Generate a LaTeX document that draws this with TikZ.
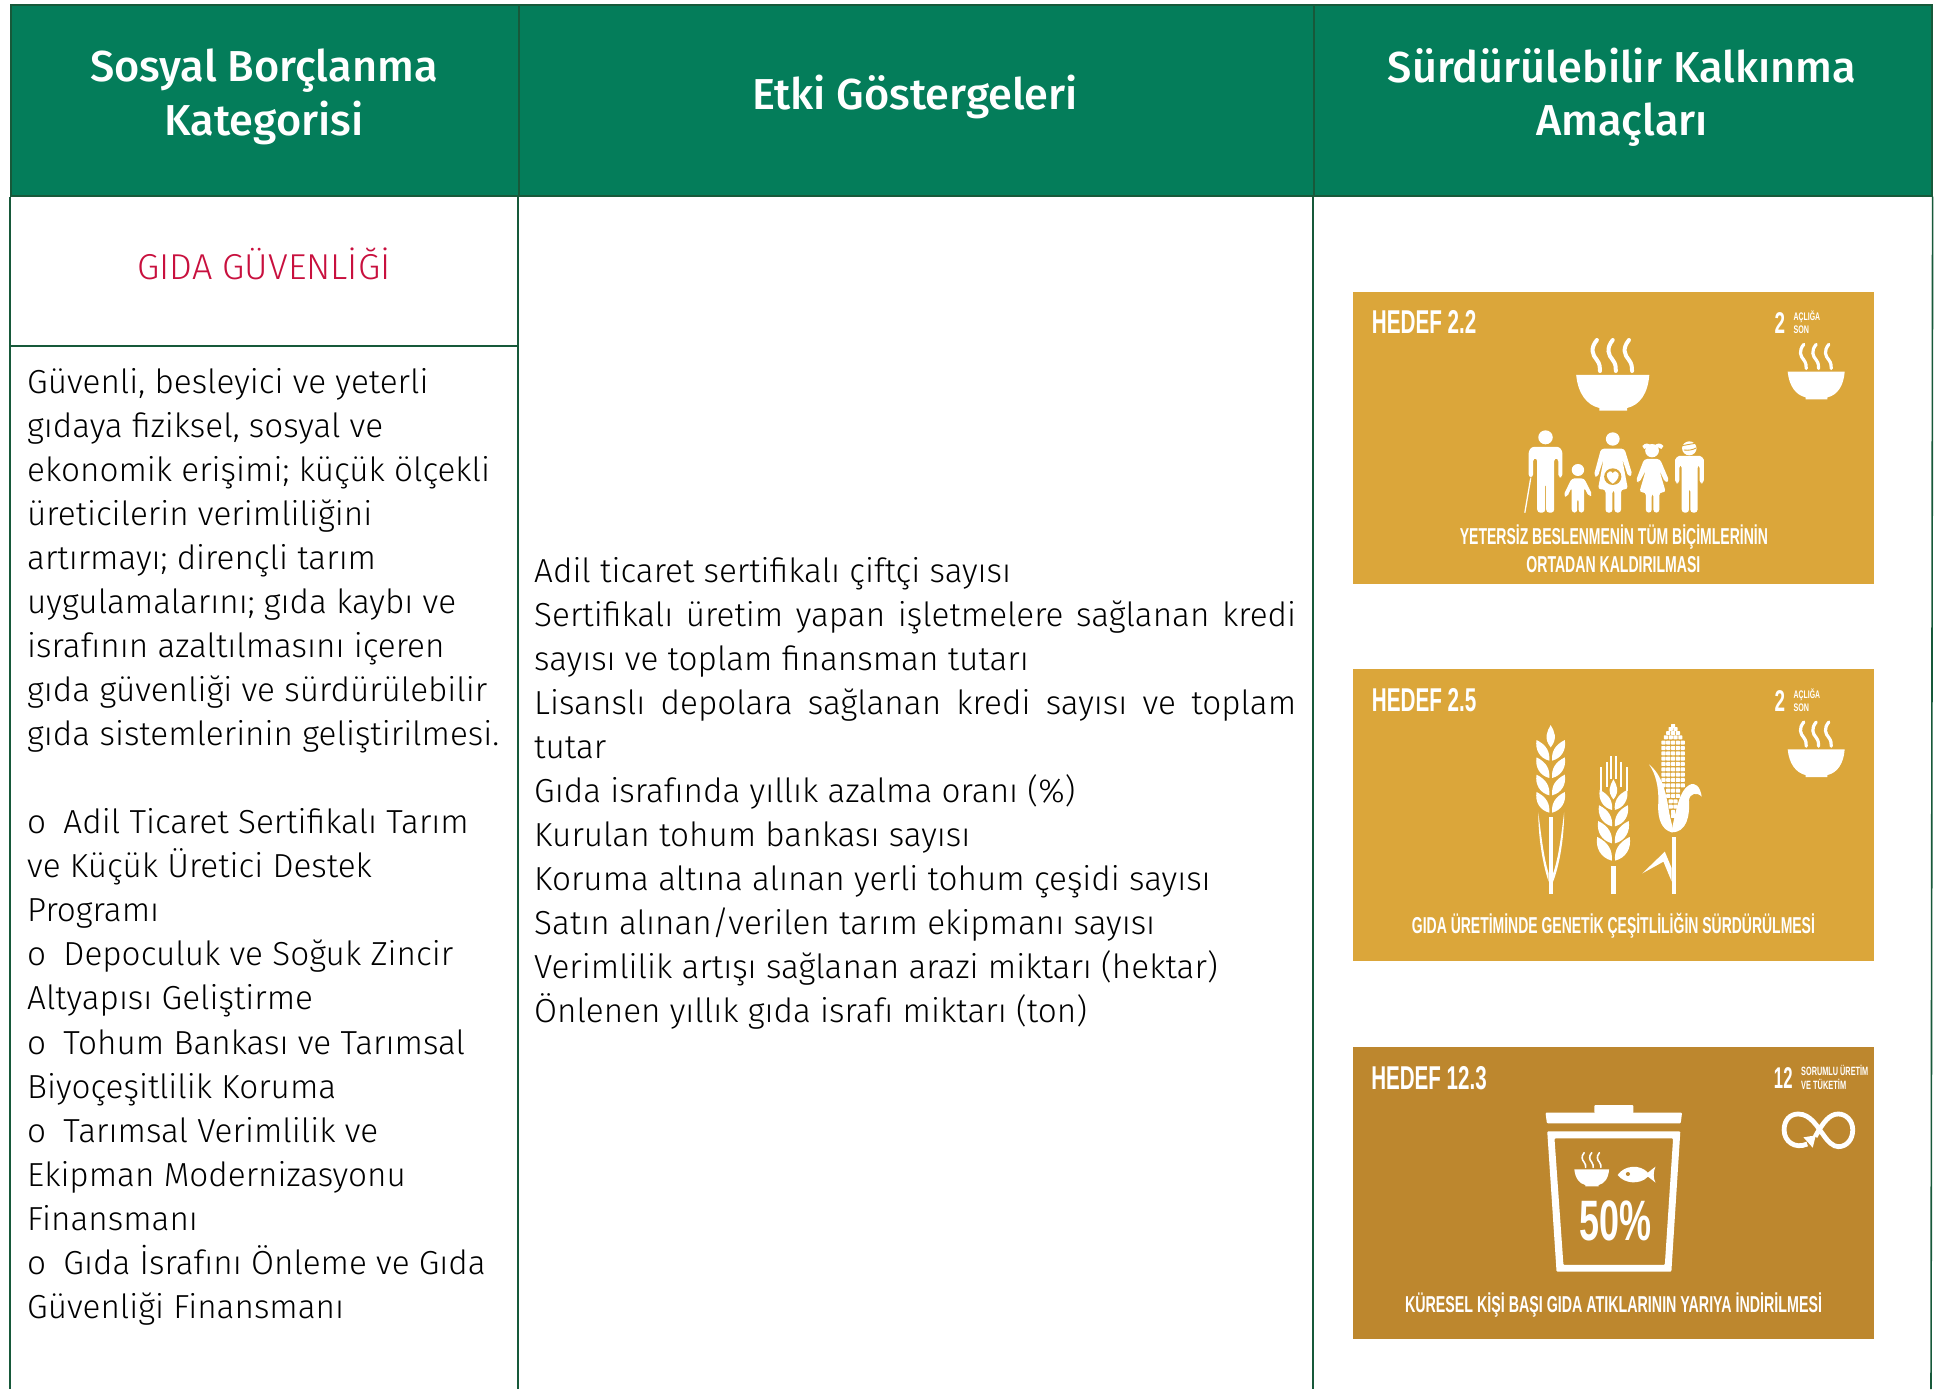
\documentclass[tikz,border=0pt]{standalone}
\usepackage{fontspec}
\usepackage{graphicx}
\setmainfont{Fira Sans Light}
\newfontfamily\headfont{Fira Sans Medium}
\newfontfamily\condfont{Liberation Sans Bold}
\definecolor{headgreen}{HTML}{047D5A}
\definecolor{rulegreen}{HTML}{17593A}
\definecolor{catred}{HTML}{C8103E}
\definecolor{sdggold}{HTML}{DBA63A}
\definecolor{sdgbrown}{HTML}{BD872E}
\newcommand{\cnd}[3]{\resizebox{#1pt}{\height}{\fontsize{#2}{#2}\condfont #3}}
\tikzset{
  headcell/.style={draw=rulegreen,line width=1.6pt,fill=headgreen,anchor=north west,inner sep=0pt,minimum height=191pt},
  headtext/.style={text=white,font=\headfont\fontsize{43.3}{53.5}\selectfont,align=center,inner sep=0pt},
  rulel/.style={draw=rulegreen,line width=1.6pt},
  bodytext/.style={font=\fontsize{33.3}{44.05}\selectfont,anchor=north west,inner sep=0pt},
  lbl/.style={anchor=base west,inner sep=0pt,text=white},
  grain/.pic={\fill[white] (-41,-62) .. controls (-12,-47) and (-2,-27) .. (-4,0) .. controls (-31,-7) and (-46,-32) .. (-41,-62) -- cycle;},
  topgrain/.pic={\fill[white] (0,0) .. controls (-11,20) and (-21,40) .. (0,67) .. controls (21,40) and (11,20) .. (0,0) -- cycle;},
  bowl/.pic={
    \fill[white] (-106,0) -- (106,0) .. controls (102,55) and (79,90) .. (42,99) -- (42,107) -- (-39,107) -- (-39,99) .. controls (-76,90) and (-101,55) .. (-106,0) -- cycle;
  },
  steamw/.pic={
    \foreach \dx in {-46,0,47}{
    \draw[white,line width=\pgfkeysvalueof{/tikz/sw},line cap=round,shift={(\dx,0)}] (0,-105) .. controls (-20,-80) and (-13,-60) .. (0,-45) .. controls (9,-33) and (9,-22) .. (9,-12);}
  },
  sw/.initial=4pt
}
\begin{document}
\begin{tikzpicture}[x=1pt,y=-1pt]
\useasboundingbox (0,0) rectangle (1937,1389);
% header cells
\node[headcell,minimum width=508pt] (h1) at (10,4) {};
\node[headcell,minimum width=795pt] (h2) at (518,4) {};
\node[headcell,minimum width=618pt] (h3) at (1313,4) {};
\node[headtext] (t1) at (264,97) {Sosyal Borçlanma\\Kategorisi};
\node[headtext] (t2) at (915,97) {Etki Göstergeleri};
\node[headtext] (t3) at (1622,97) {Sürdürülebilir Kalkınma\\Amaçları};
% column rules
\coordinate (b0) at (10,1389);
\coordinate (b1) at (518,1389);
\coordinate (b2) at (1313,1389);
\coordinate (b3) at (1931,1389);
\coordinate (r0) at (10,346);
\coordinate (r1) at (518,346);
\draw[rulel] (h1.south west) -- (b0);
\draw[rulel] (h2.south west) -- (b1);
\draw[rulel] (h3.south west) -- (b2);
\draw[rulel] (h3.south east) -- (b3);
\draw[rulel] (r0) -- (r1);
\node[text=catred,font=\fontsize{36}{40}\selectfont,inner sep=0pt] (cat) at (264,264) {GIDA GÜVENLİĞİ};
\node[bodytext,align=left] (left) at (27,368) {Güvenli, besleyici ve yeterli\\
gıdaya fiziksel, sosyal ve\\
ekonomik erişimi; küçük ölçekli\\
üreticilerin verimliliğini\\
artırmayı; dirençli tarım\\
uygulamalarını; gıda kaybı ve\\
israfının azaltılmasını içeren\\
gıda güvenliği ve sürdürülebilir\\
gıda sistemlerinin geliştirilmesi.\\
\strut\\
o\hspace{8pt} Adil Ticaret Sertifikalı Tarım\\
ve Küçük Üretici Destek\\
Programı\\
o\hspace{8pt} Depoculuk ve Soğuk Zincir\\
Altyapısı Geliştirme\\
o\hspace{8pt} Tohum Bankası ve Tarımsal\\
Biyoçeşitlilik Koruma\\
o\hspace{8pt} Tarımsal Verimlilik ve\\
Ekipman Modernizasyonu\\
Finansmanı\\
o\hspace{8pt} Gıda İsrafını Önleme ve Gıda\\
Güvenliği Finansmanı};
\node[bodytext,text width=762pt,align=justify] (mid) at (534,557) {\hyphenpenalty=10000\parskip=0pt
Adil ticaret sertifikalı çiftçi sayısı\par
Sertifikalı üretim yapan işletmelere sağlanan kredi\linebreak[4] sayısı ve toplam finansman tutarı\par
Lisanslı depolara sağlanan kredi sayısı ve toplam\linebreak[4] tutar\par
Gıda israfında yıllık azalma oranı (\%)\par
Kurulan tohum bankası sayısı\par
Koruma altına alınan yerli tohum çeşidi sayısı\par
Satın alınan/verilen tarım ekipmanı sayısı\par
Verimlilik artışı sağlanan arazi miktarı (hektar)\par
Önlenen yıllık gıda israfı miktarı (ton)\par};
% ---- card 1
\begin{scope}[shift={(1340,280)},x=0.3448pt,y=-0.3333pt]
\fill[sdggold] (39,35) rectangle (1550,912);
\node[lbl] (c1a) at (92,162) {\cnd{104.5}{33}{HEDEF 2.2}};
\node[lbl] (c1b) at (1260,160) {\cnd{10.5}{30}{2}};
\node[lbl] (c1c) at (1315,123) {\cnd{26.5}{11}{AÇLIĞA}};
\node[lbl] (c1d) at (1315,160) {\cnd{15.5}{11}{SON}};
\node[lbl] (c1e) at (347,793) {\cnd{308}{23}{YETERSİZ BESLENMENİN TÜM BİÇİMLERİNİN}};
\node[lbl] (c1f) at (540,878) {\cnd{174}{23}{ORTADAN KALDIRILMASI}};
\pic at (791,285) {bowl};
\pic[sw=4pt] at (791,285) {steamw};
\pic[scale=.78] at (1381,275) {bowl};
\pic[scale=.78,sw=3.2pt] at (1381,275) {steamw};
% man
\fill[white] (596,472) circle[radius=21];
\fill[white,rounded corners=3pt] (547,592) -- (547,530) .. controls (547,510) and (555,501) .. (570,501) -- (622,501) .. controls (637,501) and (645,510) .. (645,530) -- (645,592) -- (633,592) -- (633,535) -- (621,535) -- (621,698) -- (598,698) -- (598,610) -- (595,610) -- (595,698) -- (572,698) -- (572,535) -- (560,535) -- (560,592) -- cycle;
\draw[white,line width=1.3pt] (536,698) -- (553,595);
% child
\fill[white] (690,570) circle[radius=18];
\fill[white,rounded corners=3pt] (672,595) -- (708,595) -- (732,645) -- (722,650) -- (708,622) -- (708,698) -- (692,698) -- (692,655) -- (688,655) -- (688,698) -- (672,698) -- (672,622) -- (658,652) -- (648,646) -- cycle;
% pregnant woman
\fill[white] (791,477) circle[radius=20];
\fill[white,rounded corners=3pt] (757,506) -- (825,506) -- (848,585) -- (836,590) -- (818,535) -- (835,628) -- (815,628) -- (815,698) -- (796,698) -- (796,630) -- (790,630) -- (790,698) -- (770,698) -- (770,628) -- (748,628) -- (765,535) -- (747,592) -- (736,587) -- cycle;
\fill[sdggold] (791,590) circle[radius=25];
\fill[white] (791,611) .. controls (757,587) and (783,562) .. (791,580) .. controls (799,562) and (825,587) .. (791,611) -- cycle;
% girl
\fill[white] (905,512) circle[radius=20];
\fill[white] (877,498) .. controls (885,487) and (897,490) .. (900,497) -- (882,507) -- cycle;
\fill[white] (938,498) .. controls (930,487) and (918,490) .. (912,497) -- (932,507) -- cycle;
\fill[white,rounded corners=3pt] (882,537) -- (928,537) -- (955,603) -- (943,608) -- (926,570) -- (945,637) -- (926,637) -- (926,698) -- (909,698) -- (909,640) -- (904,640) -- (904,698) -- (887,698) -- (887,637) -- (868,637) -- (887,570) -- (868,608) -- (858,603) -- cycle;
% boy
\fill[white] (1013,505) circle[radius=21];
\draw[sdggold,line width=.9pt] (992,497) -- (1030,490);
\draw[sdggold,line width=.9pt] (997,510) .. controls (1010,512) and (1022,510) .. (1033,504);
\fill[white,rounded corners=3pt] (972,610) -- (972,548) .. controls (972,535) and (980,528) .. (992,528) -- (1035,528) .. controls (1047,528) and (1055,535) .. (1055,548) -- (1055,610) -- (1043,610) -- (1043,555) -- (1037,555) -- (1037,698) -- (1016,698) -- (1016,625) -- (1012,625) -- (1012,698) -- (991,698) -- (991,555) -- (984,555) -- (984,610) -- cycle;
\end{scope}
% ---- card 2
\begin{scope}[shift={(1340,660)},x=0.3448pt,y=-0.3333pt]
\fill[sdggold] (39,28) rectangle (1550,904);
\node[lbl] (c2a) at (92,155) {\cnd{104.5}{33}{HEDEF 2.5}};
\node[lbl] (c2b) at (1260,153) {\cnd{10.5}{30}{2}};
\node[lbl] (c2c) at (1315,116) {\cnd{26.5}{11}{AÇLIĞA}};
\node[lbl] (c2d) at (1315,153) {\cnd{15.5}{11}{SON}};
\node[lbl] (c2e) at (208,822) {\cnd{403}{23}{GIDA ÜRETİMİNDE GENETİK ÇEŞİTLİLİĞİN SÜRDÜRÜLMESİ}};
\pic[scale=.78] at (1381,268) {bowl};
\pic[scale=.78,sw=3.2pt] at (1381,268) {steamw};
% wheat 1
\pic at (611,195) {topgrain};
\foreach \yy in {302,354,406,458}{
  \pic at (611,\yy) {grain};
  \pic[xscale=-1] at (611,\yy) {grain};
}
\fill[white] (605,472) rectangle (618,702);
\fill[white] (575,457) .. controls (575,540) and (590,620) .. (605,665) -- (605,640) .. controls (590,590) and (583,520) .. (575,457) -- cycle;
\fill[white] (650,457) .. controls (650,540) and (635,620) .. (618,665) -- (618,640) .. controls (635,590) and (642,520) .. (650,457) -- cycle;
% wheat 2
\pic[scale=.9] at (793,358) {topgrain};
\pic[scale=.97] at (793,450) {grain};
\pic[scale=.97,xscale=-1] at (793,450) {grain};
\pic[scale=1.02] at (793,499) {grain};
\pic[scale=1.02,xscale=-1] at (793,499) {grain};
\pic[scale=1.08] at (793,550) {grain};
\pic[scale=1.08,xscale=-1] at (793,550) {grain};
\pic[scale=1.15] at (793,602) {grain};
\pic[scale=1.15,xscale=-1] at (793,602) {grain};
\fill[white] (787,618) rectangle (801,702);
\fill[white] (754,322) rectangle (760,392);
\fill[white] (770,305) rectangle (776,380);
\fill[white] (783,288) rectangle (789,358);
\fill[white] (798,288) rectangle (804,358);
\fill[white] (812,305) rectangle (818,380);
\fill[white] (829,322) rectangle (835,392);
% corn
\foreach \yy/\nn in {198/1,207/2,219/3,232/4,248/5,264/5,280/5,296/5,312/5,328/5,344/5,360/5,376/5,392/3,408/3,424/2,440/2,456/1,468/1}{
  \pgfmathsetmacro{\lastk}{\nn-1}
  \foreach \k in {0,...,\lastk}{
    \fill[white,rounded corners=.6pt] ({966+(\k-\lastk/2)*14-6},{\yy-6}) rectangle ++(12,12);
  }
}
\fill[white] (896,313) .. controls (935,345) and (945,400) .. (952,440) .. controls (955,465) and (962,490) .. (965,505) .. controls (968,510) and (968,515) .. (962,517) .. controls (935,510) and (920,480) .. (923,430) .. controls (925,380) and (915,340) .. (896,313) -- cycle;
\fill[white] (962,517) .. controls (1005,517) and (1015,470) .. (1012,420) .. controls (1015,400) and (1035,395) .. (1049,410) .. controls (1045,380) and (1030,365) .. (1013,375) .. controls (985,390) and (975,450) .. (965,495) -- cycle;
\fill[white] (962,530) rectangle (975,702);
\fill[white] (877,640) -- (942,575) -- (962,625) -- (962,665) -- (938,605) -- cycle;
\end{scope}
% ---- card 3
\begin{scope}[shift={(1340,1040)},x=0.3448pt,y=-0.3333pt]
\fill[sdgbrown] (39,22) rectangle (1550,897);
\node[lbl] (c3a) at (90,148) {\cnd{115.5}{33}{HEDEF 12.3}};
\node[lbl] (c3b) at (1258,145) {\cnd{18.6}{30}{12}};
\node[lbl] (c3c) at (1337,107) {\cnd{67}{12}{SORUMLU ÜRETİM}};
\node[lbl] (c3d) at (1337,148) {\cnd{45}{12}{VE TÜKETİM}};
\node[lbl] (c3e) at (188,818) {\cnd{417}{23}{KÜRESEL KİŞİ BAŞI GIDA ATIKLARININ YARIYA İNDİRİLMESİ}};
\node[lbl] (c3f) at (695,603) {\cnd{72}{57}{50\%}};
% bin
\fill[white,rounded corners=1pt] (596,218) -- (992,218) -- (988,250) -- (600,250) -- cycle;
\fill[white,rounded corners=1pt] (738,195) rectangle (851,220);
\fill[white,even odd rule,rounded corners=1pt] (601,274) -- (987,274) -- (961,695) -- (628,695) -- cycle (622,295) -- (966,295) -- (942,675) -- (648,675) -- cycle;
% bowl + fish
\pic[scale=.476] at (730,388) {bowl};
\pic[scale=.476,sw=1.6pt] at (730,388) {steamw};
\fill[white] (805,405) .. controls (825,375) and (870,372) .. (893,398) .. controls (900,392) and (908,385) .. (915,380) .. controls (908,395) and (908,415) .. (915,428) .. controls (908,422) and (900,415) .. (893,410) .. controls (870,435) and (825,432) .. (805,405) -- cycle;
\fill[sdgbrown] (835,402) circle[radius=6];
% infinity
\draw[white,line width=4.8pt] (1355,312) .. controls (1320,328) and (1288,305) .. (1288,270) .. controls (1288,240) and (1305,222) .. (1329,222) .. controls (1365,222) and (1385,262) .. (1400,282) .. controls (1415,305) and (1430,320) .. (1445,320) .. controls (1470,320) and (1487,298) .. (1487,270) .. controls (1487,242) and (1468,222) .. (1445,222) .. controls (1420,222) and (1402,245) .. (1378,290);
\fill[white] (1344,292) -- (1380,286) -- (1371,323) -- cycle;
\end{scope}
\end{tikzpicture}
\end{document}
